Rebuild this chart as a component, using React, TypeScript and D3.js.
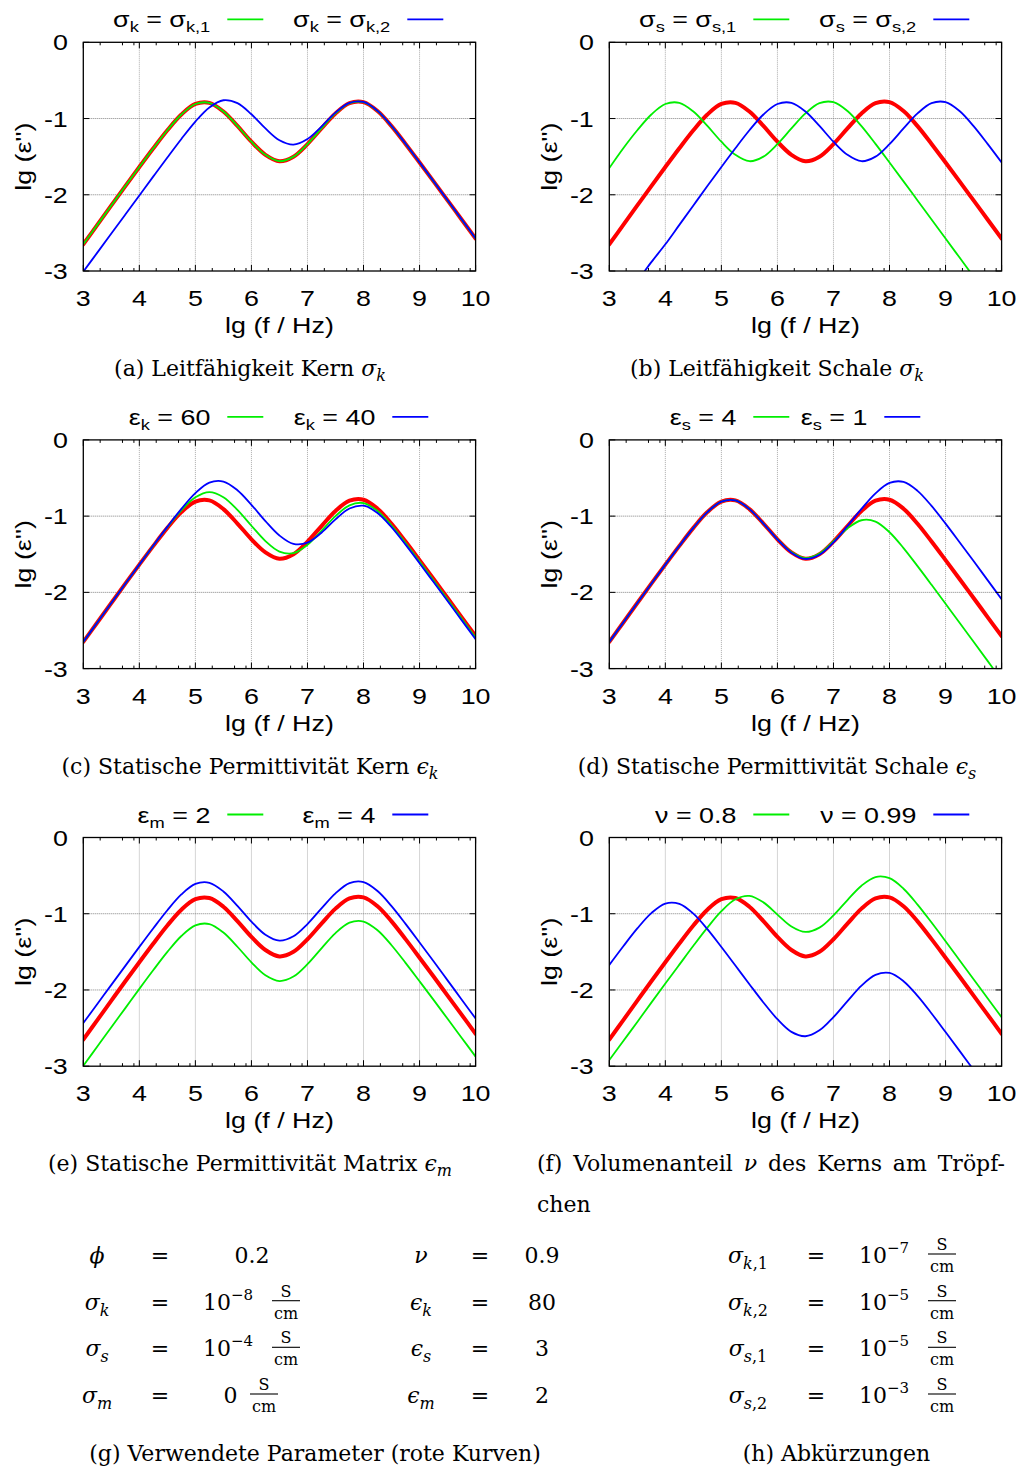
import React, { useLayoutEffect, useRef, useState } from 'react';
import * as d3 from 'd3';

// ---------- data ----------
const lgF = [3, 3.25, 3.5, 3.75, 4, 4.25, 4.5, 4.75, 5, 5.25, 5.5, 5.75, 6, 6.25, 6.5, 6.75, 7, 7.25, 7.5, 7.75, 8, 8.25, 8.5, 8.75, 9, 9.25, 9.5, 9.75, 10];
const xTickValues = [3, 4, 5, 6, 7, 8, 9, 10];
const yTickValues = [0, -1, -2, -3];
const minorTickOffsets = [0.301, 0.699, 0.903];

// red reference curve (parameters of table g), identical in every panel
const redReference = [-2.65, -2.395, -2.14, -1.886, -1.636, -1.39, -1.154, -0.947, -0.809, -0.794, -0.908, -1.097, -1.304, -1.476, -1.56, -1.5, -1.335, -1.13, -0.933, -0.798, -0.785, -0.902, -1.1, -1.333, -1.577, -1.824, -2.074, -2.324, -2.574];

// (a) sigma_k
const aGreen = [-2.65, -2.395, -2.14, -1.886, -1.636, -1.39, -1.154, -0.947, -0.809, -0.794, -0.908, -1.097, -1.304, -1.476, -1.56, -1.5, -1.335, -1.13, -0.933, -0.798, -0.785, -0.902, -1.1, -1.333, -1.577, -1.824, -2.074, -2.324, -2.574];
const aBlue = [-3.009, -2.759, -2.509, -2.259, -2.009, -1.759, -1.511, -1.268, -1.04, -0.854, -0.76, -0.798, -0.944, -1.13, -1.285, -1.342, -1.268, -1.105, -0.923, -0.794, -0.783, -0.9, -1.098, -1.331, -1.575, -1.822, -2.072, -2.322, -2.572];
// (b) sigma_s
const bGreen = [-1.65, -1.39, -1.154, -0.947, -0.809, -0.794, -0.908, -1.097, -1.304, -1.476, -1.56, -1.5, -1.335, -1.13, -0.933, -0.798, -0.785, -0.902, -1.1, -1.333, -1.577, -1.824, -2.074, -2.324, -2.574, -2.824, -3.074, -3.324, -3.574];
const bBlue = [-3.634, -3.384, -3.134, -2.884, -2.65, -2.395, -2.14, -1.886, -1.636, -1.39, -1.154, -0.947, -0.809, -0.794, -0.908, -1.097, -1.304, -1.476, -1.56, -1.5, -1.335, -1.13, -0.933, -0.798, -0.785, -0.902, -1.1, -1.333, -1.577];
// (c) eps_k
const cGreen = [-2.65, -2.395, -2.14, -1.886, -1.636, -1.387, -1.146, -0.924, -0.753, -0.684, -0.751, -0.918, -1.126, -1.327, -1.465, -1.485, -1.377, -1.193, -1.0, -0.858, -0.828, -0.932, -1.123, -1.354, -1.597, -1.844, -2.094, -2.344, -2.594];
const cBlue = [-2.65, -2.395, -2.14, -1.886, -1.636, -1.386, -1.141, -0.905, -0.698, -0.56, -0.546, -0.66, -0.851, -1.065, -1.254, -1.364, -1.348, -1.218, -1.043, -0.9, -0.863, -0.958, -1.145, -1.374, -1.617, -1.865, -2.114, -2.364, -2.614];
// (d) eps_s
const dGreen = [-2.65, -2.395, -2.14, -1.886, -1.636, -1.39, -1.154, -0.947, -0.809, -0.794, -0.908, -1.097, -1.302, -1.471, -1.55, -1.49, -1.33, -1.161, -1.054, -1.071, -1.211, -1.419, -1.656, -1.901, -2.15, -2.399, -2.649, -2.899, -3.149];
const dBlue = [-2.65, -2.395, -2.14, -1.886, -1.636, -1.39, -1.154, -0.947, -0.809, -0.794, -0.908, -1.098, -1.305, -1.479, -1.562, -1.507, -1.344, -1.13, -0.905, -0.701, -0.564, -0.551, -0.668, -0.866, -1.098, -1.342, -1.589, -1.839, -2.089];
// (e) eps_m
const eGreen = [-2.994, -2.742, -2.489, -2.238, -1.986, -1.739, -1.501, -1.292, -1.152, -1.135, -1.247, -1.433, -1.638, -1.808, -1.883, -1.824, -1.661, -1.454, -1.254, -1.117, -1.102, -1.217, -1.413, -1.644, -1.886, -2.13, -2.378, -2.626, -2.874];
const eBlue = [-2.434, -2.184, -1.933, -1.684, -1.435, -1.19, -0.954, -0.747, -0.609, -0.594, -0.708, -0.897, -1.104, -1.276, -1.353, -1.296, -1.135, -0.93, -0.733, -0.598, -0.585, -0.702, -0.9, -1.133, -1.377, -1.624, -1.874, -2.124, -2.374];
// (f) volume fraction v
const fGreen = [-2.919, -2.669, -2.419, -2.166, -1.916, -1.668, -1.421, -1.183, -0.967, -0.81, -0.766, -0.851, -1.011, -1.167, -1.239, -1.182, -1.022, -0.82, -0.632, -0.519, -0.534, -0.672, -0.88, -1.116, -1.361, -1.61, -1.859, -2.109, -2.359];
const fBlue = [-1.672, -1.427, -1.193, -0.992, -0.866, -0.87, -0.999, -1.202, -1.437, -1.68, -1.924, -2.164, -2.384, -2.55, -2.607, -2.53, -2.356, -2.146, -1.943, -1.802, -1.776, -1.885, -2.078, -2.308, -2.552, -2.799, -3.049, -3.299, -3.549];

type Run = [string, number]; // [text, 1 = subscript]
const legendGreen: Run[][] = [
  [['σ', 0], ['k', 1], [' = σ', 0], ['k,1', 1]],
  [['σ', 0], ['s', 1], [' = σ', 0], ['s,1', 1]],
  [['ε', 0], ['k', 1], [' = 60', 0]],
  [['ε', 0], ['s', 1], [' = 4', 0]],
  [['ε', 0], ['m', 1], [' = 2', 0]],
  [['ν = 0.8', 0]],
];
const legendBlue: Run[][] = [
  [['σ', 0], ['k', 1], [' = σ', 0], ['k,2', 1]],
  [['σ', 0], ['s', 1], [' = σ', 0], ['s,2', 1]],
  [['ε', 0], ['k', 1], [' = 40', 0]],
  [['ε', 0], ['s', 1], [' = 1', 0]],
  [['ε', 0], ['m', 1], [' = 4', 0]],
  [['ν = 0.99', 0]],
];
type Cap = [string, 'r' | 'i' | 'is'];
const captions: Cap[][] = [
  [['(a) Leitfähigkeit Kern ', 'r'], ['σ', 'i'], ['k', 'is']],
  [['(b) Leitfähigkeit Schale ', 'r'], ['σ', 'i'], ['k', 'is']],
  [['(c) Statische Permittivität Kern ', 'r'], ['ϵ', 'i'], ['k', 'is']],
  [['(d) Statische Permittivität Schale ', 'r'], ['ϵ', 'i'], ['s', 'is']],
  [['(e) Statische Permittivität Matrix ', 'r'], ['ϵ', 'i'], ['m', 'is']],
];
const captionF1: Cap[] = [['(f) Volumenanteil ', 'r'], ['ν', 'i'], [' des Kerns am Tröpf-', 'r']];
const captionF2 = 'chen';

const paramSymbolsLeft: [string, string][] = [['ϕ', ''], ['σ', 'k'], ['σ', 's'], ['σ', 'm']];
const paramValuesLeft = [
  { kind: 'plain', text: '0.2' },
  { kind: 'pow', text: '−8' },
  { kind: 'pow', text: '−4' },
  { kind: 'unit', text: '0' },
];
const paramSymbolsRight: [string, string][] = [['ν', ''], ['ϵ', 'k'], ['ϵ', 's'], ['ϵ', 'm']];
const paramValuesRight = ['0.9', '80', '3', '2'];
const abbrevSymbols: [string, string, string][] = [['σ', 'k', ',1'], ['σ', 'k', ',2'], ['σ', 's', ',1'], ['σ', 's', ',2']];
const abbrevExponents = ['−7', '−5', '−5', '−3'];
const captionG = '(g) Verwendete Parameter (rote Kurven)';
const captionH = '(h) Abkürzungen';

// ---------- layout ----------
const colLeft = [83.3, 609.3];
const rowTop = [42.3, 439.9, 837.5];
const plotW = 392.3;
const plotH = 228.7;
const legendSecondOffset = [324, 324, 309, 275, 309, 324];
const panelGreen = [aGreen, bGreen, cGreen, dGreen, eGreen, fGreen];
const panelBlue = [aBlue, bBlue, cBlue, dBlue, eBlue, fBlue];

const RED = '#ff0000';
const GREEN = '#00ee00';
const BLUE = '#0000ff';
const SANS = "'Liberation Sans', Arial, Helvetica, sans-serif";
const SERIF = "'DejaVu Serif', serif";
const SX = 1.22;
const FS = 22;

function SansRuns({ runs }: { runs: Run[] }) {
  let shift = 0;
  return (
    <>
      {runs.map(([t, sub], i) => {
        const target = sub ? 5 : 0;
        const dy = target - shift;
        shift = target;
        return (
          <tspan key={i} dy={dy} fontSize={sub ? 15 : FS}>
            {t}
          </tspan>
        );
      })}
    </>
  );
}

function SText({ x, y, anchor, rotate = 0, children }: any) {
  return (
    <text
      transform={`translate(${x},${y}) rotate(${rotate}) scale(${SX},1)`}
      textAnchor={anchor}
      fontFamily={SANS}
      fontSize={FS}
      fill="#000"
    >
      {children}
    </text>
  );
}

function SerifRuns({ runs }: { runs: Cap[] }) {
  let shift = 0;
  return (
    <>
      {runs.map(([t, s], i) => {
        const target = s === 'is' ? 5 : 0;
        const dy = target - shift;
        shift = target;
        return (
          <tspan key={i} dy={dy} fontStyle={s === 'r' ? 'normal' : 'italic'} fontSize={s === 'is' ? 16 : 22}>
            {t}
          </tspan>
        );
      })}
    </>
  );
}

function Panel({ idx }: { idx: number }) {
  const col = idx % 2;
  const row = Math.floor(idx / 2);
  const x0 = colLeft[col];
  const y0 = rowTop[row];
  const yb = y0 + plotH;
  const x = d3.scaleLinear().domain([3, 10]).range([x0, x0 + plotW]);
  const y = d3.scaleLinear().domain([0, -3]).range([y0, yb]);
  const line = d3
    .line<number>()
    .x((_, i) => x(lgF[i]))
    .y((v) => y(v))
    .curve(d3.curveCatmullRom.alpha(0.5));
  const clip = `clip-${idx}`;
  const minor = xTickValues.slice(0, -1).flatMap((t) => minorTickOffsets.map((o) => t + o));
  const s2 = legendSecondOffset[idx];
  const legY = y0 - 23;
  const legBase = y0 - 15;
  return (
    <g>
      <defs>
        <clipPath id={clip}>
          <rect x={x0} y={y0} width={plotW} height={plotH} />
        </clipPath>
      </defs>
      {xTickValues.slice(1, -1).map((t) => (
        <line key={'gx' + t} x1={x(t)} x2={x(t)} y1={y0} y2={yb} stroke="#aaaaaa" strokeWidth={1} strokeDasharray="1 1" />
      ))}
      {yTickValues.slice(1, -1).map((t) => (
        <line key={'gy' + t} x1={x0} x2={x0 + plotW} y1={y(t)} y2={y(t)} stroke="#808080" strokeWidth={1} strokeDasharray="1 1" />
      ))}
      <g clipPath={`url(#${clip})`} fill="none" strokeLinejoin="round" strokeLinecap="round">
        <path d={line(redReference) || ''} stroke={RED} strokeWidth={4} />
        <path d={line(panelGreen[idx]) || ''} stroke={GREEN} strokeWidth={1.8} />
        <path d={line(panelBlue[idx]) || ''} stroke={BLUE} strokeWidth={1.8} />
      </g>
      <rect x={x0} y={y0} width={plotW} height={plotH} fill="none" stroke="#000" strokeWidth={1.3} />
      {xTickValues.map((t) => (
        <g key={'tx' + t}>
          <line x1={x(t)} x2={x(t)} y1={yb} y2={yb - 6} stroke="#000" strokeWidth={1} />
          <line x1={x(t)} x2={x(t)} y1={y0} y2={y0 + 6} stroke="#000" strokeWidth={1} />
        </g>
      ))}
      {minor.map((t) => (
        <g key={'mx' + t}>
          <line x1={x(t)} x2={x(t)} y1={yb} y2={yb - 3} stroke="#000" strokeWidth={1} />
          <line x1={x(t)} x2={x(t)} y1={y0} y2={y0 + 3} stroke="#000" strokeWidth={1} />
        </g>
      ))}
      {yTickValues.map((t) => (
        <g key={'ty' + t}>
          <line x1={x0} x2={x0 + 6} y1={y(t)} y2={y(t)} stroke="#000" strokeWidth={1} />
          <line x1={x0 + plotW} x2={x0 + plotW - 6} y1={y(t)} y2={y(t)} stroke="#000" strokeWidth={1} />
        </g>
      ))}
      {xTickValues.map((t) => (
        <SText key={'lx' + t} x={x(t)} y={yb + 35} anchor="middle">
          {String(t)}
        </SText>
      ))}
      {yTickValues.map((t) => (
        <SText key={'ly' + t} x={x0 - 15.5} y={y(t) + 8} anchor="end">
          {t === 0 ? '0' : '-' + String(-t)}
        </SText>
      ))}
      <SText x={x0 + plotW / 2} y={yb + 62} anchor="middle">
        lg (f / Hz)
      </SText>
      <SText x={x0 - 52} y={y0 + plotH / 2} anchor="middle" rotate={-90}>
        lg (ε'')
      </SText>
      {/* legend */}
      <SText x={x0 + 127} y={legBase} anchor="end">
        <SansRuns runs={legendGreen[idx]} />
      </SText>
      <line x1={x0 + 144} x2={x0 + 180} y1={legY} y2={legY} stroke={GREEN} strokeWidth={1.8} />
      <SText x={x0 + s2 - 17} y={legBase} anchor="end">
        <SansRuns runs={legendBlue[idx]} />
      </SText>
      <line x1={x0 + s2} x2={x0 + s2 + 36} y1={legY} y2={legY} stroke={BLUE} strokeWidth={1.8} />
    </g>
  );
}

function JustifiedLine({ x, y, width, runs }: { x: number; y: number; width: number; runs: Cap[] }) {
  const ref = useRef<SVGTextElement>(null);
  const [ws, setWs] = useState(0);
  useLayoutEffect(() => {
    const el = ref.current;
    if (!el) return;
    const natural = el.getComputedTextLength();
    const n = ((el.textContent || '').match(/ /g) || []).length;
    if (n > 0) setWs((width - natural) / n);
  }, [width]);
  return (
    <text ref={ref} x={x} y={y} fontFamily={SERIF} fontSize={22} style={{ wordSpacing: ws }}>
      <SerifRuns runs={runs} />
    </text>
  );
}

function MathSym({ cx, y, sym, sub, tail = '' }: { cx: number; y: number; sym: string; sub: string; tail?: string }) {
  return (
    <text x={cx} y={y} textAnchor="middle" fontFamily={SERIF} fontSize={22}>
      <tspan fontStyle="italic">{sym}</tspan>
      {sub ? (
        <tspan dy={6} fontSize={16} fontStyle="italic">
          {sub}
        </tspan>
      ) : null}
      {tail ? <tspan fontSize={16}>{tail}</tspan> : null}
    </text>
  );
}

function Fraction({ cx, y }: { cx: number; y: number }) {
  return (
    <g fontFamily={SERIF} fontSize={16}>
      <text x={cx} y={y - 13} textAnchor="middle">
        S
      </text>
      <line x1={cx - 14} x2={cx + 14} y1={y - 9} y2={y - 9} stroke="#000" strokeWidth={1.1} />
      <text x={cx} y={y + 9} textAnchor="middle">
        cm
      </text>
    </g>
  );
}

function PowUnit({ cx, y, exp }: { cx: number; y: number; exp: string }) {
  return (
    <g>
      <text x={cx - 49} y={y} fontFamily={SERIF} fontSize={22}>
        10
        <tspan dy={-10} fontSize={15}>
          {exp}
        </tspan>
      </text>
      <Fraction cx={cx + 34} y={y} />
    </g>
  );
}

function Tables() {
  const rows = [1263, 1309.7, 1356.3, 1403];
  return (
    <g>
      {rows.map((ry, i) => {
        const v = paramValuesLeft[i];
        return (
          <g key={'r' + i}>
            <MathSym cx={97} y={ry} sym={paramSymbolsLeft[i][0]} sub={paramSymbolsLeft[i][1]} />
            <text x={160} y={ry} textAnchor="middle" fontFamily={SERIF} fontSize={22}>
              =
            </text>
            {v.kind === 'plain' ? (
              <text x={252} y={ry} textAnchor="middle" fontFamily={SERIF} fontSize={22}>
                {v.text}
              </text>
            ) : v.kind === 'pow' ? (
              <PowUnit cx={252} y={ry} exp={v.text} />
            ) : (
              <g>
                <text x={230.5} y={ry} textAnchor="middle" fontFamily={SERIF} fontSize={22}>
                  {v.text}
                </text>
                <Fraction cx={264} y={ry} />
              </g>
            )}
            <MathSym cx={421} y={ry} sym={paramSymbolsRight[i][0]} sub={paramSymbolsRight[i][1]} />
            <text x={480} y={ry} textAnchor="middle" fontFamily={SERIF} fontSize={22}>
              =
            </text>
            <text x={542} y={ry} textAnchor="middle" fontFamily={SERIF} fontSize={22}>
              {paramValuesRight[i]}
            </text>
            <MathSym cx={748} y={ry} sym={abbrevSymbols[i][0]} sub={abbrevSymbols[i][1]} tail={abbrevSymbols[i][2]} />
            <text x={816} y={ry} textAnchor="middle" fontFamily={SERIF} fontSize={22}>
              =
            </text>
            <PowUnit cx={908} y={ry} exp={abbrevExponents[i]} />
          </g>
        );
      })}
      <text x={315} y={1461} textAnchor="middle" fontFamily={SERIF} fontSize={22}>
        {captionG}
      </text>
      <text x={836.5} y={1461} textAnchor="middle" fontFamily={SERIF} fontSize={22}>
        {captionH}
      </text>
    </g>
  );
}

export default function App() {
  const capBase = [376, 773.6, 1171.2];
  const capCenter = [250, 777];
  return (
    <svg
      width={1023}
      height={1470}
      viewBox="0 0 1023 1470"
      style={{ position: 'absolute', left: 0, top: 0, background: '#fff' }}
    >
      <rect x={0} y={0} width={1023} height={1470} fill="#fff" />
      {[0, 1, 2, 3, 4, 5].map((i) => (
        <Panel key={i} idx={i} />
      ))}
      {captions.map((c, i) => (
        <text
          key={'cap' + i}
          x={capCenter[i % 2]}
          y={capBase[Math.floor(i / 2)]}
          textAnchor="middle"
          fontFamily={SERIF}
          fontSize={22}
        >
          <SerifRuns runs={c} />
        </text>
      ))}
      <JustifiedLine x={537} y={1171.2} width={468} runs={captionF1} />
      <text x={537} y={1211.7} fontFamily={SERIF} fontSize={22}>
        {captionF2}
      </text>
      <Tables />
    </svg>
  );
}
